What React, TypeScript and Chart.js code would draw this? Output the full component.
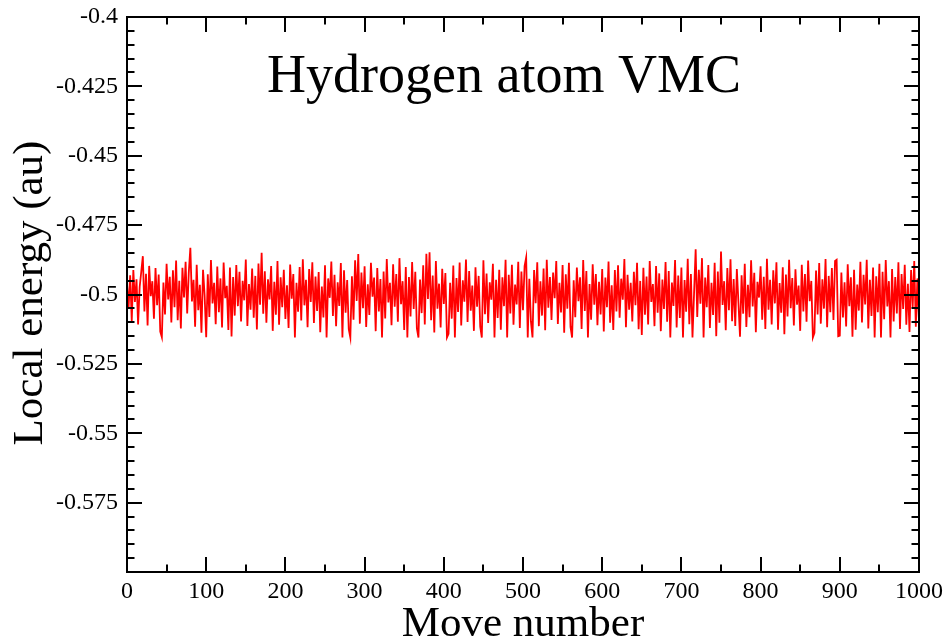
import { useEffect, useRef } from "react";
import { Chart, registerables } from "chart.js";

Chart.register(...registerables);

const TITLE = "Hydrogen atom VMC";
const X_TITLE = "Move number";
const Y_TITLE = "Local energy (au)";

const X_MIN = 0;
const X_MAX = 1000;
const X_MAJOR = 100;
const X_MINOR = 50;
const Y_MIN = -0.6;
const Y_MAX = -0.4;
const Y_MAJOR = 0.025;
const Y_MINOR = 0.005;

const X_TICK_LABELS = ["0", "100", "200", "300", "400", "500", "600", "700", "800", "900", "1000"];
const Y_TICK_LABELS = ["-0.575", "-0.55", "-0.525", "-0.5", "-0.475", "-0.45", "-0.425", "-0.4"];

// one sample every MOVE_STEP moves
const MOVE_STEP = 2;
const ENERGY = [
  -0.4962, -0.5048, -0.4931, -0.5095, -0.4912, -0.5027, -0.4945, -0.5108, -0.4973, -0.4918,
  -0.4862, -0.5061, -0.4925, -0.5112, -0.4897, -0.5006, -0.4952, -0.5087, -0.4905, -0.5039,
  -0.4928, -0.5134, -0.5154, -0.4957, -0.5072, -0.4889, -0.5018, -0.4936, -0.5101, -0.4913,
  -0.5046, -0.4878, -0.5093, -0.4951, -0.5122, -0.4904, -0.5011, -0.4882, -0.5068, -0.4921,
  -0.4832, -0.5025, -0.4947, -0.5116, -0.4893, -0.5057, -0.4965, -0.5138, -0.4911, -0.5003,
  -0.5154, -0.4927, -0.5081, -0.4876, -0.5032, -0.4958, -0.5107, -0.4899, -0.5064, -0.4942,
  -0.5119, -0.4885, -0.5013, -0.4969, -0.5128, -0.4903, -0.5151, -0.4937, -0.5076, -0.4894,
  -0.5042, -0.4918, -0.5097, -0.4951, -0.5021, -0.4874, -0.5113, -0.4962, -0.5055, -0.4906,
  -0.5084, -0.4933, -0.5126, -0.4888, -0.5037, -0.4850, -0.5069, -0.4916, -0.5102, -0.4945,
  -0.5018, -0.4897, -0.5131, -0.4954, -0.5073, -0.4879, -0.5109, -0.4938, -0.5046, -0.4911,
  -0.5088, -0.4967, -0.5121, -0.4892, -0.5015, -0.4926, -0.5155, -0.4958, -0.5062, -0.4901,
  -0.5094, -0.4873, -0.5039, -0.4947, -0.5118, -0.4908, -0.5027, -0.4884, -0.5103, -0.4935,
  -0.5059, -0.4919, -0.5136, -0.4971, -0.5083, -0.4895, -0.5155, -0.4942, -0.5012, -0.4881,
  -0.5077, -0.4929, -0.5114, -0.4956, -0.5041, -0.4887, -0.5155, -0.4913, -0.5066, -0.4948,
  -0.5125, -0.5155, -0.4934, -0.5091, -0.4877, -0.5023, -0.4854, -0.5105, -0.4921, -0.5049,
  -0.4898, -0.5117, -0.4963, -0.5074, -0.4886, -0.5008, -0.4939, -0.5132, -0.4905, -0.5061,
  -0.4944, -0.5155, -0.4917, -0.5086, -0.4872, -0.5029, -0.4958, -0.5111, -0.4891, -0.5044,
  -0.4926, -0.5098, -0.4869, -0.5035, -0.4952, -0.5128, -0.4901, -0.5155, -0.4937, -0.5079,
  -0.4883, -0.5052, -0.4918, -0.5122, -0.5155, -0.4946, -0.5067, -0.4895, -0.5108, -0.4853,
  -0.5016, -0.4848, -0.5093, -0.4932, -0.5137, -0.4879, -0.5051, -0.4961, -0.5119, -0.4907,
  -0.5034, -0.4923, -0.5155, -0.5142, -0.4958, -0.5087, -0.4896, -0.5155, -0.4941, -0.5063,
  -0.4885, -0.5112, -0.4949, -0.5026, -0.4874, -0.5099, -0.4915, -0.5058, -0.4968, -0.5131,
  -0.4902, -0.5044, -0.4933, -0.5116, -0.5155, -0.4877, -0.5071, -0.4924, -0.5103, -0.4956,
  -0.5019, -0.4889, -0.5155, -0.4947, -0.5085, -0.4911, -0.5127, -0.4938, -0.5042, -0.4875,
  -0.5155, -0.4929, -0.5068, -0.4893, -0.5109, -0.4964, -0.5036, -0.4882, -0.5121, -0.4917,
  -0.5057, -0.4898, -0.4867, -0.5155, -0.4943, -0.5097, -0.5155, -0.4912, -0.5031, -0.4884,
  -0.5114, -0.4952, -0.5076, -0.4906, -0.5129, -0.4875, -0.5048, -0.4937, -0.5092, -0.4921,
  -0.5013, -0.4879, -0.5106, -0.4958, -0.5065, -0.4894, -0.5138, -0.4927, -0.5051, -0.4886,
  -0.5117, -0.5155, -0.4949, -0.5082, -0.4903, -0.5024, -0.4938, -0.5124, -0.4876, -0.5059,
  -0.4915, -0.5155, -0.4962, -0.5091, -0.4891, -0.5037, -0.4926, -0.5111, -0.4954, -0.5072,
  -0.4908, -0.5133, -0.4939, -0.5046, -0.4881, -0.5102, -0.4967, -0.5128, -0.4912, -0.5061,
  -0.4895, -0.5084, -0.4943, -0.5019, -0.4872, -0.5118, -0.4929, -0.5055, -0.4958, -0.5097,
  -0.4918, -0.5039, -0.4886, -0.5125, -0.4951, -0.5146, -0.4904, -0.5073, -0.4935, -0.5108,
  -0.4879, -0.5027, -0.4962, -0.5114, -0.4897, -0.5066, -0.4924, -0.5132, -0.4946, -0.5052,
  -0.4883, -0.5098, -0.4915, -0.5155, -0.4957, -0.5041, -0.4876, -0.5119, -0.4932, -0.5085,
  -0.4903, -0.5155, -0.4948, -0.5062, -0.4871, -0.5107, -0.4926, -0.5155, -0.4995, -0.4837,
  -0.5081, -0.4911, -0.5033, -0.4869, -0.5155, -0.4939, -0.5046, -0.4894, -0.5121, -0.4958,
  -0.5074, -0.4886, -0.5150, -0.4917, -0.5102, -0.4845, -0.5038, -0.4952, -0.5129, -0.4905,
  -0.5057, -0.4873, -0.5096, -0.4944, -0.5113, -0.4908, -0.5028, -0.5152, -0.4931, -0.5069,
  -0.4889, -0.5117, -0.4965, -0.5082, -0.4877, -0.5043, -0.4922, -0.5136, -0.4954, -0.5011,
  -0.4898, -0.5091, -0.4936, -0.5124, -0.4871, -0.5055, -0.4947, -0.5108, -0.4913, -0.5032,
  -0.4884, -0.5127, -0.4959, -0.5066, -0.4902, -0.5143, -0.4928, -0.5079, -0.4875, -0.5049,
  -0.4941, -0.5112, -0.4909, -0.5037, -0.4968, -0.5131, -0.4893, -0.5061, -0.4926, -0.5098,
  -0.4878, -0.5024, -0.4951, -0.5155, -0.5138, -0.4914, -0.5072, -0.4887, -0.5105, -0.4945,
  -0.5051, -0.4872, -0.5118, -0.4933, -0.5064, -0.4905, -0.5092, -0.4879, -0.4875, -0.5150,
  -0.5148, -0.4921, -0.5083, -0.4956, -0.5115, -0.4891, -0.5042, -0.4938, -0.5152, -0.4911,
  -0.5127, -0.4964, -0.5058, -0.4882, -0.5101, -0.4929, -0.5036, -0.4875, -0.5122, -0.4947,
  -0.5077, -0.4903, -0.5155, -0.4934, -0.5064, -0.4889, -0.5155, -0.4918, -0.5089, -0.4876,
  -0.5043, -0.4952, -0.5155, -0.4908, -0.5097, -0.4937, -0.5068, -0.4884, -0.5124, -0.4926,
  -0.5052, -0.4893, -0.5109, -0.4961, -0.5135, -0.4912, -0.5047, -0.4879, -0.5116, -0.4942,
  -0.5098,
];

const SERIF = "'Liberation Serif', 'Times New Roman', serif";
const W = 949;
const H = 641;

const framePlugin = {
  id: "frameAndTicks",
  afterDraw(chart: any) {
    const { ctx, chartArea, scales } = chart;
    const { left, right, top, bottom } = chartArea;
    const xs = scales.x;
    const ys = scales.y;
    ctx.save();
    ctx.strokeStyle = "#000";
    ctx.lineWidth = 2;
    ctx.lineCap = "butt";
    const nx = Math.round((X_MAX - X_MIN) / X_MINOR);
    const perX = Math.round(X_MAJOR / X_MINOR);
    ctx.beginPath();
    for (let i = 1; i < nx; i++) {
      const v = X_MIN + i * X_MINOR;
      const p = Math.round(xs.getPixelForValue(v));
      const len = i % perX === 0 ? 15 : 7.5;
      ctx.moveTo(p, bottom);
      ctx.lineTo(p, bottom - len);
      ctx.moveTo(p, top);
      ctx.lineTo(p, top + len);
    }
    const ny = Math.round((Y_MAX - Y_MIN) / Y_MINOR);
    const perY = Math.round(Y_MAJOR / Y_MINOR);
    for (let i = 1; i < ny; i++) {
      const v = Y_MIN + i * Y_MINOR;
      const p = Math.round(ys.getPixelForValue(v));
      const len = i % perY === 0 ? 15 : 7.5;
      ctx.moveTo(left, p);
      ctx.lineTo(left + len, p);
      ctx.moveTo(right, p);
      ctx.lineTo(right - len, p);
    }
    ctx.stroke();
    ctx.strokeRect(left, top, right - left, bottom - top);

    ctx.fillStyle = "#000";
    ctx.textBaseline = "alphabetic";
    ctx.textAlign = "center";
    ctx.font = `54px ${SERIF}`;
    ctx.fillText(TITLE, 504, 92);

    ctx.font = `43px ${SERIF}`;
    ctx.fillText(X_TITLE, (left + right) / 2, 636);

    ctx.save();
    ctx.translate(42, 293);
    ctx.rotate(-Math.PI / 2);
    ctx.fillText(Y_TITLE, 0, 0);
    ctx.restore();

    ctx.restore();
  },
};

export default function App() {
  const ref = useRef<HTMLCanvasElement | null>(null);

  useEffect(() => {
    document.body.style.margin = "0";
    const canvas = ref.current;
    if (!canvas) return;
    const points = ENERGY.map((e, i) => ({ x: i * MOVE_STEP, y: e }));
    const chart = new Chart(canvas, {
      type: "line",
      data: {
        datasets: [
          {
            data: points,
            borderColor: "#ff0000",
            borderWidth: 1.8,
            pointRadius: 0,
            tension: 0,
            fill: false,
          },
        ],
      },
      options: {
        responsive: false,
        animation: false,
        layout: { padding: { left: 0, right: 30, top: 17, bottom: 0 } },
        plugins: {
          legend: { display: false },
          title: { display: false },
          tooltip: { enabled: false },
        },
        scales: {
          x: {
            type: "linear",
            min: X_MIN,
            max: X_MAX,
            grid: { display: false, drawTicks: false },
            border: { display: false },
            ticks: {
              stepSize: X_MAJOR,
              padding: 5,
              color: "#000",
              font: { family: SERIF, size: 24 },
              maxRotation: 0,
              autoSkip: false,
              callback: (v: any) => {
                const s = String(Math.round(Number(v)));
                return X_TICK_LABELS.includes(s) ? s : "";
              },
            },
            afterFit: (scale: any) => {
              scale.height = 69;
              scale.paddingLeft = 0;
              scale.paddingRight = 0;
            },
          },
          y: {
            type: "linear",
            min: Y_MIN,
            max: Y_MAX,
            grid: { display: false, drawTicks: false },
            border: { display: false },
            ticks: {
              stepSize: Y_MAJOR,
              padding: 9,
              color: "#000",
              font: { family: SERIF, size: 24 },
              autoSkip: false,
              callback: (v: any) => {
                const n = Number(v);
                const hit = Y_TICK_LABELS.find((l) => Math.abs(Number(l) - n) < 1e-6);
                return hit ?? "";
              },
            },
            afterFit: (scale: any) => {
              scale.width = 127;
              scale.paddingTop = 0;
              scale.paddingBottom = 0;
            },
          },
        },
      },
      plugins: [framePlugin],
    });
    return () => chart.destroy();
  }, []);

  return (
    <div style={{ position: "absolute", left: 0, top: 0, width: W, height: H, background: "#fff" }}>
      <canvas ref={ref} width={W} height={H} style={{ width: W, height: H, display: "block" }} />
    </div>
  );
}
